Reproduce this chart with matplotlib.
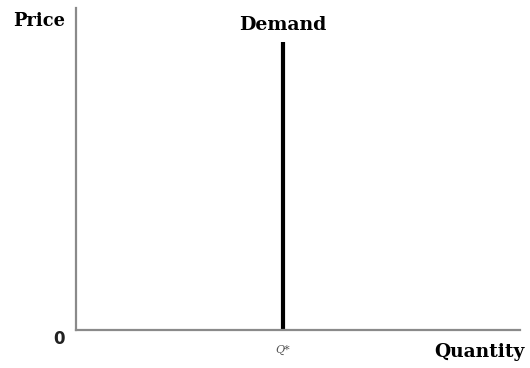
import matplotlib
matplotlib.use("Agg")
import matplotlib.pyplot as plt

# Perfectly inelastic demand: vertical line at quantity Q*
q_star = 46.6
demand_price_range = [0, 89.4]
x_limits = [0, 100]
y_limits = [0, 100]

fig = plt.figure(figsize=(5.30, 3.68), dpi=100)
ax = fig.add_axes([76/530, 38/368, 444/530, 322/368])
ax.set_xlim(*x_limits)
ax.set_ylim(*y_limits)

for side in ("top", "right"):
    ax.spines[side].set_visible(False)
for side in ("left", "bottom"):
    ax.spines[side].set_color("#8a8a8a")
    ax.spines[side].set_linewidth(1.6)
ax.set_xticks([])
ax.set_yticks([])

ax.plot([q_star, q_star], demand_price_range, color="black", lw=3, solid_capstyle="butt")

serif = ["DejaVu Serif"]
ax.text(q_star, demand_price_range[1] + 2.5, "Demand", ha="center", va="bottom",
        fontsize=13.6, fontweight="bold", family=serif)
fig.text(39/530, 1 - 21/368, "Price", ha="center", va="center",
         fontsize=12.8, fontweight="bold", family=serif)
fig.text(59/530, 1 - 339/368, "0", ha="center", va="center",
         fontsize=12, fontweight="bold", family="DejaVu Sans", color="#222222")
fig.text(283/530, 1 - 350/368, "Q*", ha="center", va="center",
         fontsize=8, style="italic", family=serif, color="#555555")
fig.text(479/530, 1 - 352/368, "Quantity", ha="center", va="center",
         fontsize=13.4, fontweight="bold", family=serif)

fig.savefig("out.png", dpi=100)
